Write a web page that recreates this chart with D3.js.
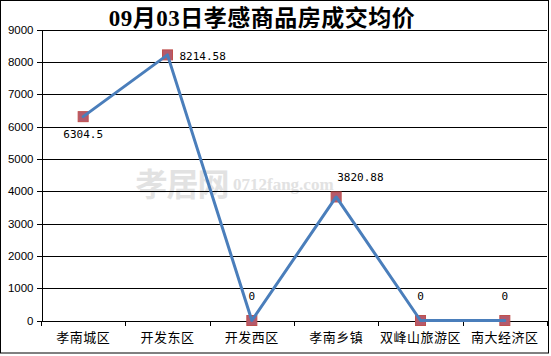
<!DOCTYPE html>
<html><head><meta charset="utf-8">
<script src="https://cdn.jsdelivr.net/npm/d3@7"></script>
<style>body{margin:0;background:#fff}svg{display:block}</style>
</head><body>
<svg id="c" width="551" height="356"></svg>
<script>
const title = "09月03日孝感商品房成交均价";
const categories = ["孝南城区","开发东区","开发西区","孝南乡镇","双峰山旅游区","南大经济区"];
const values = [6304.5, 8214.58, 0, 3820.88, 0, 0];
const valueLabels = ["6304.5","8214.58","0","3820.88","0","0"];
const labelPlacement = ["below","right","above","aboveRight","above","above"];
const yTicks = [0,1000,2000,3000,4000,5000,6000,7000,8000,9000];

const svg = d3.select("#c");
const L = 41, R = 547, T = 29.5, B = 320.5;
const x = d3.scaleBand().domain(categories).range([L, R]).padding(0);
const y = d3.scaleLinear().domain([0, 9000]).range([B, T]);

// outer border
svg.append("rect").attr("x",0.5).attr("y",0.5).attr("width",548).attr("height",352.5)
  .attr("fill","#fff").attr("stroke","#000").attr("stroke-width",1);

// watermark
const wm = svg.append("g").attr("fill","#e2e2e2").attr("font-weight","bold");
wm.append("text").attr("x",182).attr("y",196).attr("text-anchor","middle")
  .attr("font-family","'Noto Sans CJK SC'").attr("font-size",32).attr("letter-spacing",-1).text("孝居网");
wm.append("text").attr("x",233).attr("y",190).attr("text-anchor","start")
  .attr("font-family","'Liberation Serif'").attr("font-size",17).text("0712fang.com");

// gridlines
svg.append("g").selectAll("line").data(yTicks.filter(d=>d>0)).join("line")
  .attr("x1",L).attr("x2",R).attr("y1",d=>Math.round(y(d))+0.5).attr("y2",d=>Math.round(y(d))+0.5)
  .attr("stroke","#000").attr("stroke-width",1).attr("shape-rendering","crispEdges");

// y axis
const ya = svg.append("g").attr("transform",`translate(${L+0.5},0)`)
  .call(d3.axisLeft(y).tickValues(yTicks).tickSize(5).tickPadding(3).tickFormat(d3.format("d")));
ya.select(".domain").attr("stroke","#000").attr("shape-rendering","crispEdges");
ya.selectAll(".tick line").attr("stroke","#000").attr("shape-rendering","crispEdges");
ya.selectAll("text").attr("font-family","'Liberation Sans', Arial").attr("font-size",11.5).attr("fill","#000");

// x axis
const xa = svg.append("g").attr("transform",`translate(0,${B})`)
  .call(d3.axisBottom(x).tickSize(0).tickPadding(0));
xa.select(".domain").attr("stroke","#000").attr("shape-rendering","crispEdges");
xa.selectAll("text").attr("font-family","'Noto Sans CJK SC'").attr("font-size",13)
  .attr("fill","#000").attr("dy",null).attr("y",21).attr("letter-spacing",0.5);
const bounds = categories.map(c=>x(c)).concat([x(categories[categories.length-1])+x.bandwidth()]);
svg.append("g").selectAll("line").data(bounds).join("line")
  .attr("x1",d=>Math.round(d)+0.5).attr("x2",d=>Math.round(d)+0.5)
  .attr("y1",B).attr("y2",B+5).attr("stroke","#000").attr("shape-rendering","crispEdges");

// points
const pts = categories.map((c,i)=>({c, v:values[i], lab:valueLabels[i], pl:labelPlacement[i],
  px:x(c)+x.bandwidth()/2, py:y(values[i])}));

// markers
svg.append("g").selectAll("rect").data(pts).join("rect")
  .attr("x",d=>d.px-5).attr("y",d=>d.py-5).attr("width",10).attr("height",10)
  .attr("fill","#b45a6c").attr("stroke","#c0504d").attr("stroke-width",1);

// line
svg.append("path").datum(pts)
  .attr("d",d3.line().x(d=>d.px).y(d=>d.py))
  .attr("fill","none").attr("stroke","#4a7ebb").attr("stroke-width",3)
  .attr("stroke-linejoin","round").attr("stroke-linecap","round");

// labels
svg.append("g").selectAll("text").data(pts).join("text")
  .attr("font-family","'DejaVu Sans Mono', 'Liberation Mono', monospace").attr("font-size",11)
  .attr("fill","#000")
  .attr("x",d=> d.pl==="right" ? d.px+12 : d.pl==="aboveRight" ? d.px+1 : d.px)
  .attr("y",d=> d.pl==="below" ? d.py+21 : d.pl==="right" ? d.py+5 : d.pl==="aboveRight" ? d.py-16 : d.py-21)
  .attr("text-anchor",d=> (d.pl==="right"||d.pl==="aboveRight") ? "start" : "middle")
  .text(d=>d.lab);

// title
svg.append("text").attr("x",262).attr("y",26).attr("text-anchor","middle")
  .attr("font-family","'Liberation Serif', 'Noto Sans CJK SC'").attr("font-weight","bold")
  .attr("font-size",23).attr("letter-spacing",0.5).attr("fill","#000").text(title);
</script>
</body></html>
